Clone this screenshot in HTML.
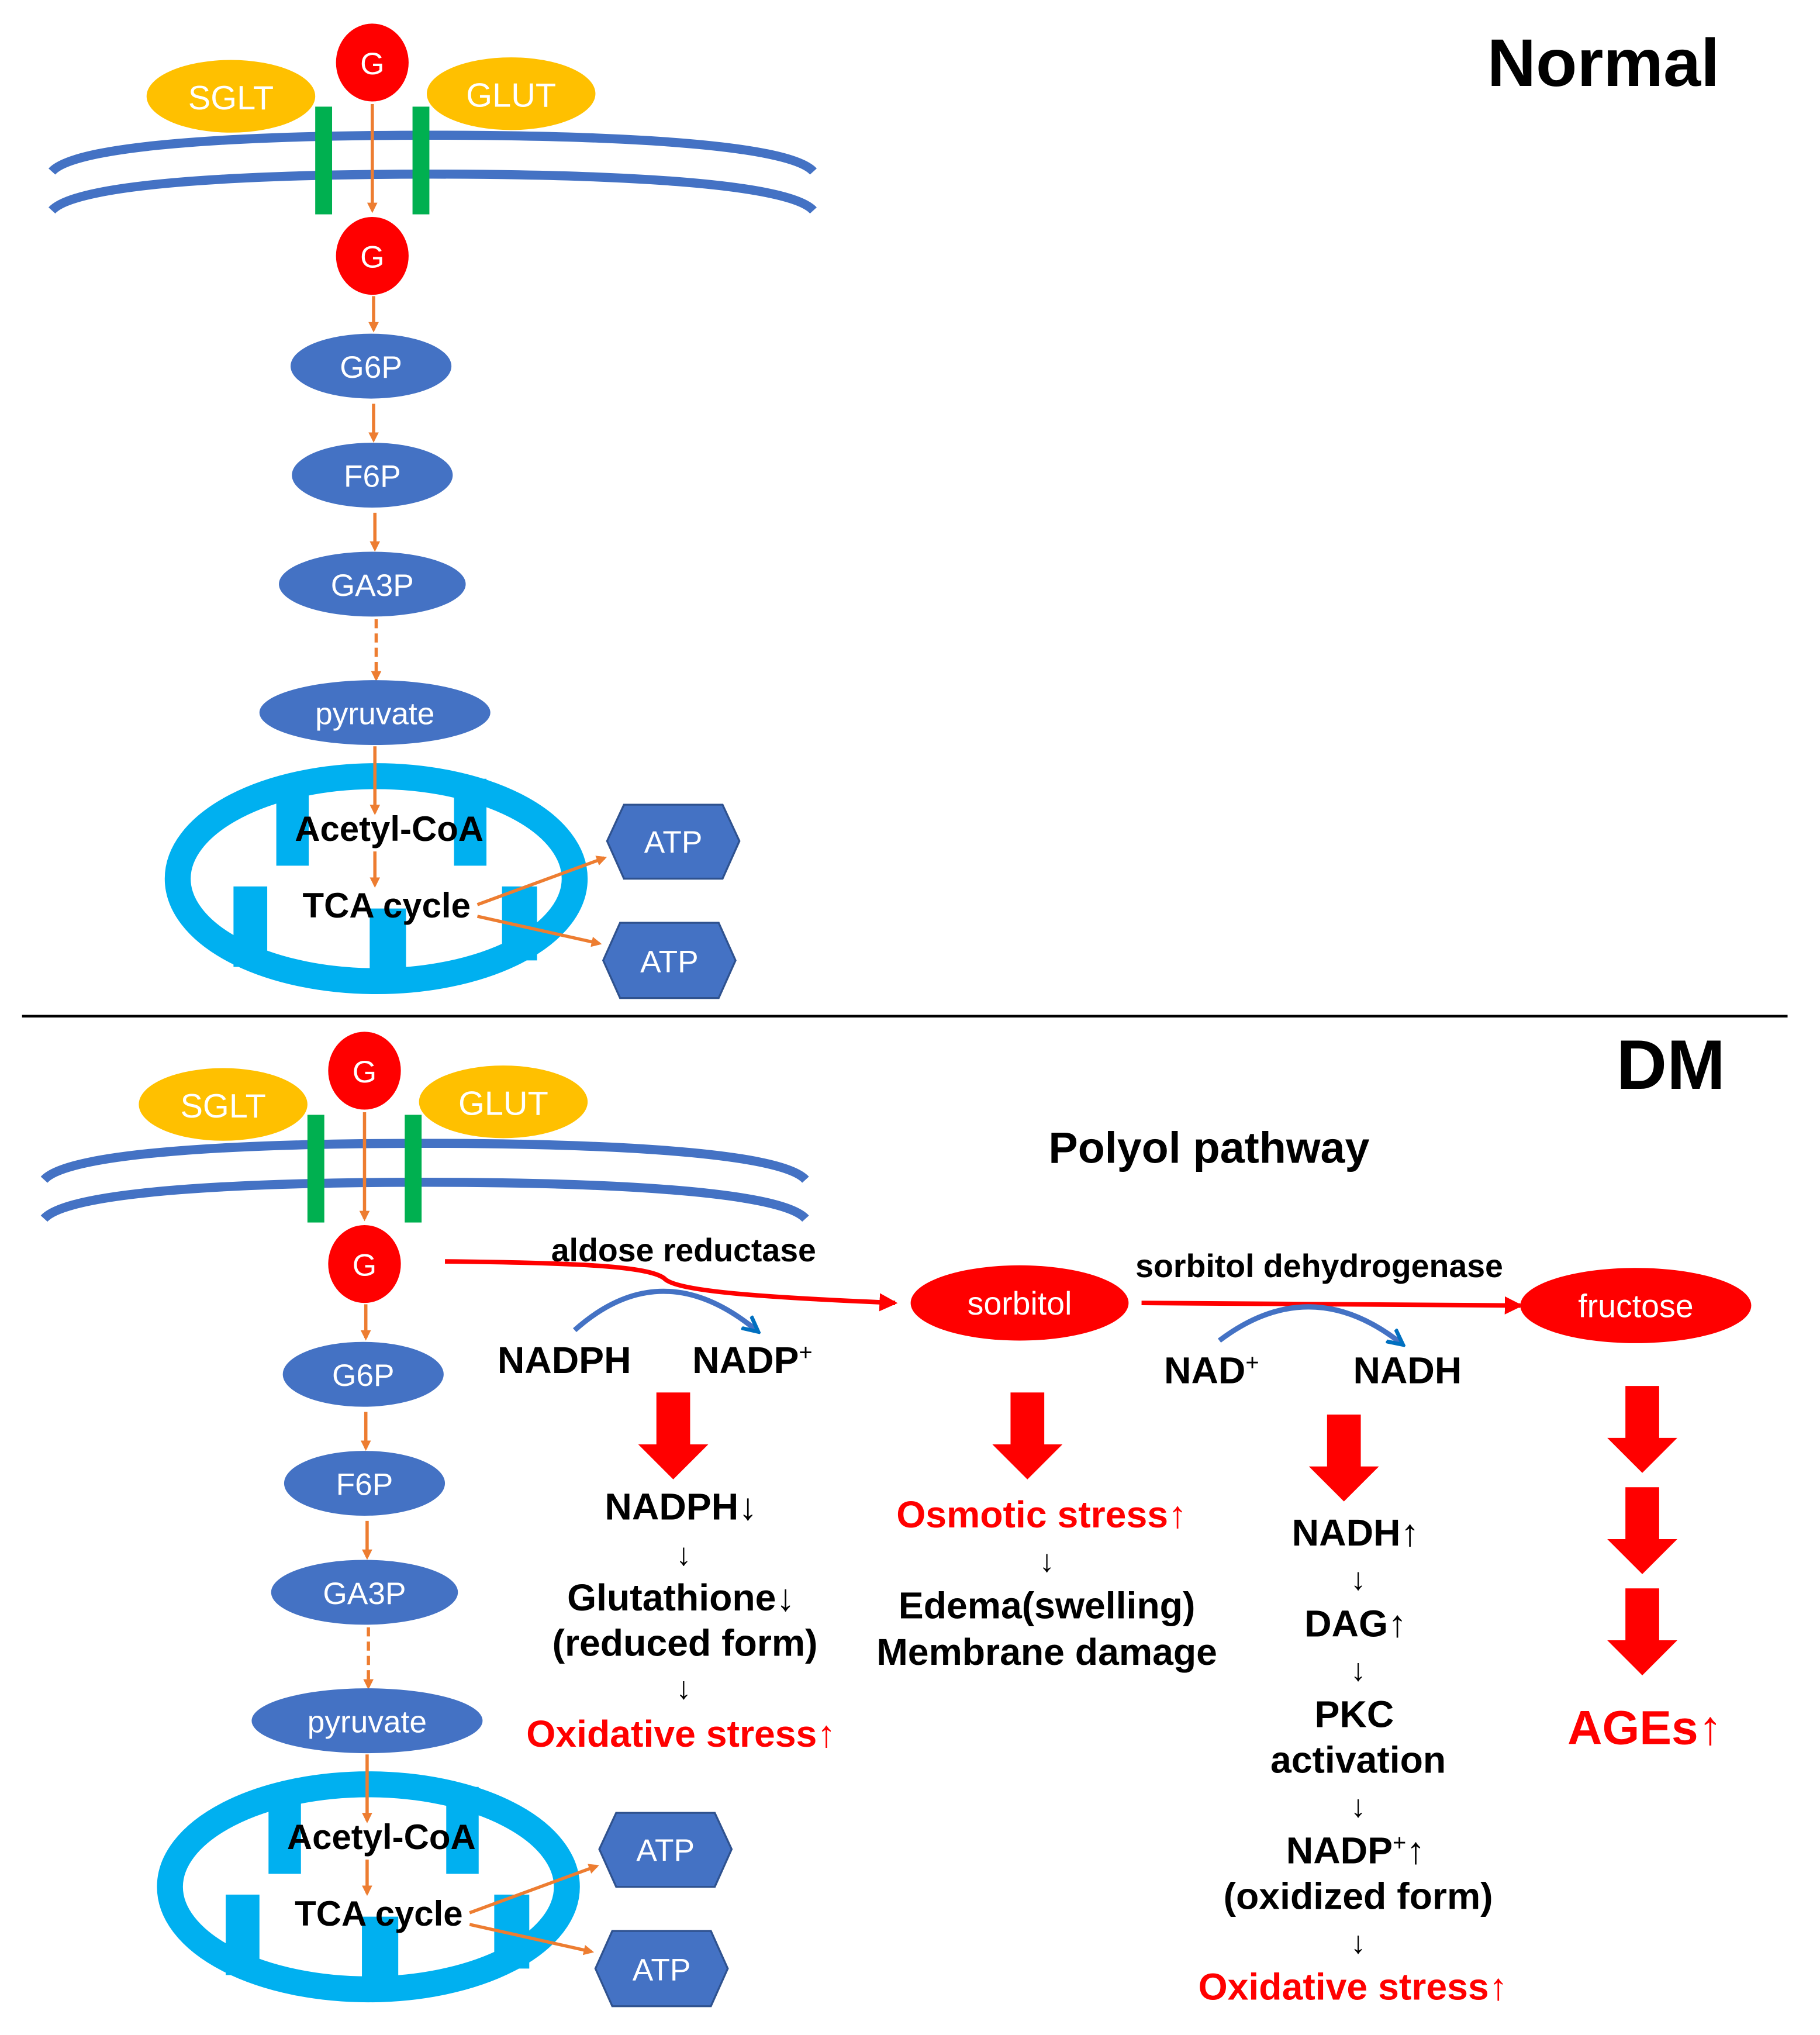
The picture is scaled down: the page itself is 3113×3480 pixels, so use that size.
<!DOCTYPE html>
<html><head><meta charset="utf-8"><style>html,body{margin:0;padding:0;background:#fff}svg{display:block}</style></head><body>
<svg width="3113" height="3480" viewBox="0 0 1403 1568" xmlns="http://www.w3.org/2000/svg" font-family="'Liberation Sans Narrow','Liberation Sans',sans-serif">
<defs>
<marker id="oa" markerWidth="8" markerHeight="8" refX="6" refY="4" orient="auto" markerUnits="userSpaceOnUse"><path d="M0,0 L8,4 L0,8 z" fill="#ED7D31"/></marker>
<marker id="ra" markerWidth="14" markerHeight="14" refX="12" refY="7" orient="auto" markerUnits="userSpaceOnUse"><path d="M0,0 L14,7 L0,14 z" fill="#f00"/></marker>
<marker id="ba" markerWidth="14" markerHeight="14" refX="10" refY="7" orient="auto" markerUnits="userSpaceOnUse"><path d="M0,1 L12,7 L0,13" fill="none" stroke="#0070C0" stroke-width="3"/></marker>
<g id="cell">
<ellipse cx="178" cy="74" rx="65" ry="28" fill="#FFC000"/>
<ellipse cx="394" cy="72" rx="65" ry="28" fill="#FFC000"/>
<text x="178" y="84" font-size="26" fill="#fff" text-anchor="middle">SGLT</text>
<text x="394" y="82" font-size="26" fill="#fff" text-anchor="middle">GLUT</text>
<path d="M40,132 C60,110 200,104 333,104 C466,104 607,110 627,132" fill="none" stroke="#4472C4" stroke-width="7"/>
<path d="M40,162 C60,140 200,134 333,134 C466,134 607,140 627,162" fill="none" stroke="#4472C4" stroke-width="7"/>
<rect x="243" y="82" width="13" height="83" fill="#00B050"/>
<rect x="318" y="82" width="13" height="83" fill="#00B050"/>
<ellipse cx="287" cy="48" rx="28" ry="30" fill="#f00"/>
<text x="287" y="57" font-size="24" fill="#fff" text-anchor="middle">G</text>
<line x1="287" y1="80" x2="287" y2="162" stroke="#ED7D31" stroke-width="2.5" marker-end="url(#oa)"/>
<ellipse cx="287" cy="197" rx="28" ry="30" fill="#f00"/>
<text x="287" y="206" font-size="24" fill="#fff" text-anchor="middle">G</text>
<line x1="288" y1="228" x2="288" y2="254" stroke="#ED7D31" stroke-width="2.5" marker-end="url(#oa)"/>
<ellipse cx="286" cy="282" rx="62" ry="25" fill="#4472C4"/>
<text x="286" y="291" font-size="24" fill="#fff" text-anchor="middle">G6P</text>
<line x1="288" y1="311" x2="288" y2="339" stroke="#ED7D31" stroke-width="2.5" marker-end="url(#oa)"/>
<ellipse cx="287" cy="366" rx="62" ry="25" fill="#4472C4"/>
<text x="287" y="375" font-size="24" fill="#fff" text-anchor="middle">F6P</text>
<line x1="289" y1="395" x2="289" y2="423" stroke="#ED7D31" stroke-width="2.5" marker-end="url(#oa)"/>
<ellipse cx="287" cy="450" rx="72" ry="25" fill="#4472C4"/>
<text x="287" y="459" font-size="24" fill="#fff" text-anchor="middle">GA3P</text>
<line x1="290" y1="477" x2="290" y2="523" stroke="#ED7D31" stroke-width="2.5" stroke-dasharray="7,4" marker-end="url(#oa)"/>
<ellipse cx="289" cy="549" rx="89" ry="25" fill="#4472C4"/>
<text x="289" y="558" font-size="24" fill="#fff" text-anchor="middle">pyruvate</text>
<ellipse cx="290" cy="677" rx="153" ry="79" fill="none" stroke="#00B0F0" stroke-width="20"/>
<rect x="213" y="600" width="25" height="67" fill="#00B0F0"/>
<rect x="350" y="600" width="25" height="67" fill="#00B0F0"/>
<rect x="180" y="683" width="26" height="62" fill="#00B0F0"/>
<rect x="285" y="700" width="28" height="48" fill="#00B0F0"/>
<rect x="387" y="683" width="27" height="57" fill="#00B0F0"/>
<line x1="289" y1="575" x2="289" y2="626" stroke="#ED7D31" stroke-width="2.5" marker-end="url(#oa)"/>
<text x="300" y="648" font-size="27" font-weight="bold" text-anchor="middle">Acetyl-CoA</text>
<line x1="289" y1="656" x2="289" y2="682" stroke="#ED7D31" stroke-width="2.5" marker-end="url(#oa)"/>
<text x="298" y="707" font-size="27" font-weight="bold" text-anchor="middle">TCA cycle</text>
<path d="M481,620 L557,620 L570,648 L557,677 L481,677 L468,648 Z" fill="#4472C4" stroke="#2F528F" stroke-width="1.5"/>
<text x="519" y="657" font-size="24" fill="#fff" text-anchor="middle">ATP</text>
<path d="M478,711 L554,711 L567,740 L554,769 L478,769 L465,740 Z" fill="#4472C4" stroke="#2F528F" stroke-width="1.5"/>
<text x="516" y="749" font-size="24" fill="#fff" text-anchor="middle">ATP</text>
<line x1="368" y1="697" x2="466" y2="661" stroke="#ED7D31" stroke-width="2.5" marker-end="url(#oa)"/>
<line x1="368" y1="706" x2="462" y2="727" stroke="#ED7D31" stroke-width="2.5" marker-end="url(#oa)"/>
</g>
<g id="bd"><path d="M-13,0 h26 v40 h14 l-27,27 l-27,-27 h14 z" fill="#f00"/></g>
</defs>
<use href="#cell"/>
<text x="1236" y="66" font-size="52" font-weight="bold" text-anchor="middle" font-family="'Liberation Sans',sans-serif">Normal</text>
<line x1="17" y1="783" x2="1378" y2="783" stroke="#000" stroke-width="2"/>
<use href="#cell" transform="translate(-6,777)"/>
<text x="1288" y="839" font-size="54" font-weight="bold" text-anchor="middle" font-family="'Liberation Sans',sans-serif">DM</text>
<text x="932" y="896" font-size="34" font-weight="bold" text-anchor="middle" font-family="'Liberation Sans',sans-serif">Polyol pathway</text>
<text x="527" y="972" font-size="25" font-weight="bold" text-anchor="middle">aldose reductase</text>
<path d="M343,972 C450,973 500,976 512,985 C522,996 600,1000 690,1004" fill="none" stroke="#f00" stroke-width="3.5" marker-end="url(#ra)"/>
<path d="M443,1025 Q510,965 583,1025" fill="none" stroke="#4472C4" stroke-width="4" marker-end="url(#ba)"/>
<text x="435" y="1058" font-size="29" font-weight="bold" text-anchor="middle">NADPH</text>
<text x="580" y="1058" font-size="29" font-weight="bold" text-anchor="middle">NADP<tspan font-size="18" dy="-10" font-weight="normal">+</tspan></text>
<ellipse cx="786" cy="1004" rx="84" ry="29" fill="#f00"/>
<text x="786" y="1013" font-size="25" fill="#fff" text-anchor="middle">sorbitol</text>
<text x="1017" y="984" font-size="25" font-weight="bold" text-anchor="middle">sorbitol dehydrogenase</text>
<line x1="880" y1="1004" x2="1172" y2="1006" stroke="#f00" stroke-width="3.5" marker-end="url(#ra)"/>
<ellipse cx="1261" cy="1006" rx="89" ry="29" fill="#f00"/>
<text x="1261" y="1015" font-size="25" fill="#fff" text-anchor="middle">fructose</text>
<path d="M940,1033 Q1010,980 1080,1035" fill="none" stroke="#4472C4" stroke-width="4" marker-end="url(#ba)"/>
<text x="934" y="1066" font-size="29" font-weight="bold" text-anchor="middle">NAD<tspan font-size="18" dy="-10" font-weight="normal">+</tspan></text>
<text x="1085" y="1066" font-size="29" font-weight="bold" text-anchor="middle">NADH</text>
<use href="#bd" transform="translate(519,1073)"/>
<use href="#bd" transform="translate(792,1073)"/>
<use href="#bd" transform="translate(1036,1090)"/>
<use href="#bd" transform="translate(1266,1068)"/>
<use href="#bd" transform="translate(1266,1146)"/>
<use href="#bd" transform="translate(1266,1224)"/>
<g font-size="29" font-weight="bold" text-anchor="middle">
<text x="525" y="1171">NADPH<tspan font-weight="normal">↓</tspan></text>
<text x="527" y="1206" font-weight="normal" font-size="24">↓</text>
<text x="525" y="1241">Glutathione<tspan font-weight="normal">↓</tspan></text>
<text x="528" y="1276">(reduced form)</text>
<text x="527" y="1309" font-weight="normal" font-size="24">↓</text>
<text x="525" y="1346" fill="#f00">Oxidative stress<tspan font-weight="normal">↑</tspan></text>
<text x="803" y="1177" fill="#f00">Osmotic stress<tspan font-weight="normal">↑</tspan></text>
<text x="807" y="1211" font-weight="normal" font-size="24">↓</text>
<text x="807" y="1247">Edema(swelling)</text>
<text x="807" y="1283">Membrane damage</text>
<text x="1045" y="1191">NADH<tspan font-weight="normal">↑</tspan></text>
<text x="1047" y="1225" font-weight="normal" font-size="24">↓</text>
<text x="1045" y="1261">DAG<tspan font-weight="normal">↑</tspan></text>
<text x="1047" y="1295" font-weight="normal" font-size="24">↓</text>
<text x="1044" y="1331">PKC</text>
<text x="1047" y="1366">activation</text>
<text x="1047" y="1400" font-weight="normal" font-size="24">↓</text>
<text x="1045" y="1436">NADP<tspan font-size="18" dy="-10" font-weight="normal">+</tspan><tspan dy="10" font-weight="normal">↑</tspan></text>
<text x="1047" y="1471">(oxidized form)</text>
<text x="1047" y="1505" font-weight="normal" font-size="24">↓</text>
<text x="1043" y="1541" fill="#f00">Oxidative stress<tspan font-weight="normal">↑</tspan></text>
<text x="1268" y="1344" fill="#f00" font-size="37">AGEs<tspan font-weight="normal">↑</tspan></text>
</g>
</svg>
</body></html>
